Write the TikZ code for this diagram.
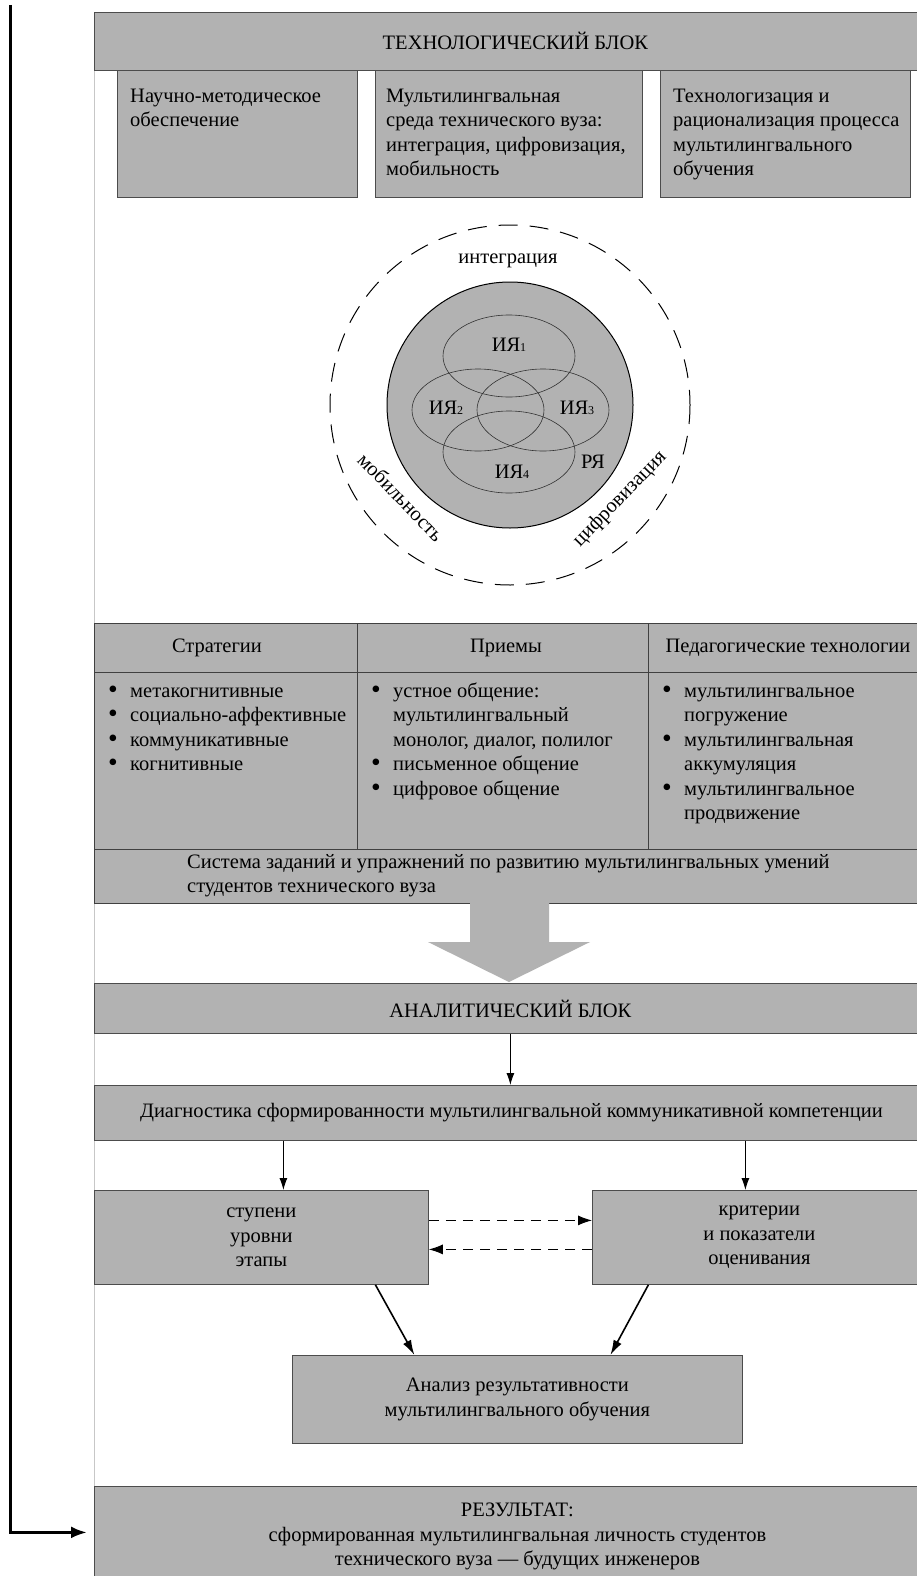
\documentclass[tikz,border=0pt]{standalone}
\usepackage{fontspec}
\setmainfont{Liberation Serif}
\usetikzlibrary{arrows.meta}

\tikzstyle{gbox}  = [fill=black!30, draw=black!70, line width=0.8pt, inner sep=0pt, anchor=north west]
\tikzstyle{txt}   = [font=\fontsize{20.5}{24.5}\selectfont, inner sep=0pt]
\tikzstyle{tline} = [draw=black!75, line width=0.8pt]
\tikzstyle{arr}   = [-{Latex[length=12pt,width=8pt]}, line width=0.9pt]
\tikzstyle{darr}  = [-{Latex[length=14pt,width=10pt]}, line width=1pt, dash pattern=on 10pt off 7pt]
\tikzstyle{barr}  = [-{Latex[length=15pt,width=9pt]}, line width=1.6pt]
\def\bl{\makebox[22pt][l]{\raisebox{-1pt}{\scalebox{1.35}{\textbullet}}}}
\def\ind{\hspace*{22pt}}
\def\lang#1{ИЯ{\fontsize{12}{12}\selectfont #1}}

\begin{document}
\begin{tikzpicture}[x=1pt,y=-1pt]
  \useasboundingbox (0,0) rectangle (916,1576);
  \fill[white] (0,0) rectangle (916,1576);
  \draw[black!22, line width=0.8pt] (94,12) -- (94,1576);

  % technological block
  \node[gbox, txt, minimum width=842pt, minimum height=58pt] (tech) at (94,12) {ТЕХНОЛОГИЧЕСКИЙ БЛОК};
  \node[gbox, minimum width=240pt, minimum height=127pt] (sci) at (117,70) {};
  \node[gbox, minimum width=267pt, minimum height=127pt] (env) at (375,70) {};
  \node[gbox, minimum width=250pt, minimum height=127pt] (rat) at (660,70) {};
  % multi-line nodes: base is the last line
  \node[txt, anchor=base west, align=left] (scit) at (130,126.5) {Научно-методическое\\обеспечение};
  \node[txt, anchor=base west, align=left] (envt) at (386,175.5) {Мультилингвальная\\среда технического вуза:\\интеграция, цифровизация,\\мобильность};
  \node[txt, anchor=base west, align=left] (ratt) at (673,175.5) {Технологизация и\\рационализация процесса\\мультилингвального\\обучения};

  % circles
  \draw[dash pattern=on 19pt off 12pt, line width=1pt] (510,405) circle (180);
  \draw[fill=black!30, line width=1pt] (510,405) circle (123);
  \foreach \cx/\cy in {509/356, 478/410, 543/410, 509/452}
    \draw[black!80, line width=0.6pt] (\cx,\cy) ellipse (66 and 41);
  \node[txt] (l1) at (509,345) {\lang1};
  \node[txt] (l2) at (446,408) {\lang2};
  \node[txt] (l3) at (577,408) {\lang3};
  \node[txt] (l4) at (512,472) {\lang4};
  \node[txt] (ru) at (593,462) {РЯ};
  \node[txt, anchor=base] (integ) at (508,263) {интеграция};
  \node[txt, rotate=-46] (mob) at (401,497) {мобильность};
  \node[txt, rotate=46] (dig) at (620,499) {цифровизация};

  % table
  \fill[black!30] (94,623) rectangle (930,903);
  \draw[tline] (94,623) rectangle (930,903);
  \draw[tline] (94,672) -- (930,672);
  \draw[tline] (94,849) -- (930,849);
  \draw[tline] (357,623) -- (357,849);
  \draw[tline] (648,623) -- (648,849);
  \node[txt, anchor=base] (hstr) at (217,652) {Стратегии};
  \node[txt, anchor=base] (hmet) at (506,652) {Приемы};
  \node[txt, anchor=base] (htec) at (788,652) {Педагогические технологии};
  \node[txt, anchor=base west, align=left] (cstr) at (108,770.5) {\bl метакогнитивные\\\bl социально-аффективные\\\bl коммуникативные\\\bl когнитивные};
  \node[txt, anchor=base west, align=left] (cmet) at (371,795) {\bl устное общение:\\\ind мультилингвальный\\\ind монолог, диалог, полилог\\\bl письменное общение\\\bl цифровое общение};
  \node[txt, anchor=base west, align=left] (ctec) at (662,819.5) {\bl мультилингвальное\\\ind погружение\\\bl мультилингвальная\\\ind аккумуляция\\\bl мультилингвальное\\\ind продвижение};
  \node[txt, anchor=base west, align=left] (task) at (187,892.5) {Система заданий и упражнений по развитию мультилингвальных умений\\студентов технического вуза};

  % big arrow
  \fill[black!30] (470,903) -- (549,903) -- (549,942) -- (590,942) -- (509,982) -- (428,942) -- (470,942) -- cycle;

  % analytical block
  \node[gbox, txt, minimum width=832pt, minimum height=50pt] (anal) at (94,983) {АНАЛИТИЧЕСКИЙ БЛОК};
  \node[gbox, txt, minimum width=834pt, minimum height=55pt] (diag) at (94,1085) {Диагностика сформированности мультилингвальной коммуникативной компетенции};
  \node[gbox, txt, align=center, minimum width=334pt, minimum height=94pt] (stp) at (94,1190) {ступени\\уровни\\этапы};
  \node[gbox, txt, align=center, minimum width=334pt, minimum height=94pt] (crit) at (592,1190) {критерии\\и показатели\\оценивания};
  \node[gbox, txt, align=center, minimum width=450pt, minimum height=88pt] (anlz) at (292,1355) {Анализ результативности\\мультилингвального обучения};
  \node[gbox, txt, align=center, minimum width=846pt, minimum height=100pt] (res) at (94,1486) {РЕЗУЛЬТАТ:\\сформированная мультилингвальная личность студентов\\технического вуза — будущих инженеров};

  \draw[arr] (anal.south) -- (anal.south |- diag.north);
  \draw[arr] ([xshift=22pt]stp.north |- diag.south) -- ([xshift=22pt]stp.north);
  \draw[arr] ([xshift=-14pt]crit.north |- diag.south) -- ([xshift=-14pt]crit.north);
  \draw[darr] ([yshift=17pt]stp.east) -- ([yshift=17pt]stp.east -| crit.west);
  \draw[darr] ([yshift=-12pt]crit.west) -- ([yshift=-12pt]crit.west -| stp.east);
  \draw[barr] ([xshift=114pt]stp.south) -- ([xshift=-103pt]anlz.north);
  \draw[barr] ([xshift=-111pt]crit.south) -- ([xshift=93pt]anlz.north);

  % feedback
  \coordinate (fbtop) at (10,5);
  \draw[-{Latex[length=16pt,width=12pt]}, line width=3pt, shorten >=7pt] (fbtop) |- ([yshift=4pt]res.west);
\end{tikzpicture}
\end{document}
